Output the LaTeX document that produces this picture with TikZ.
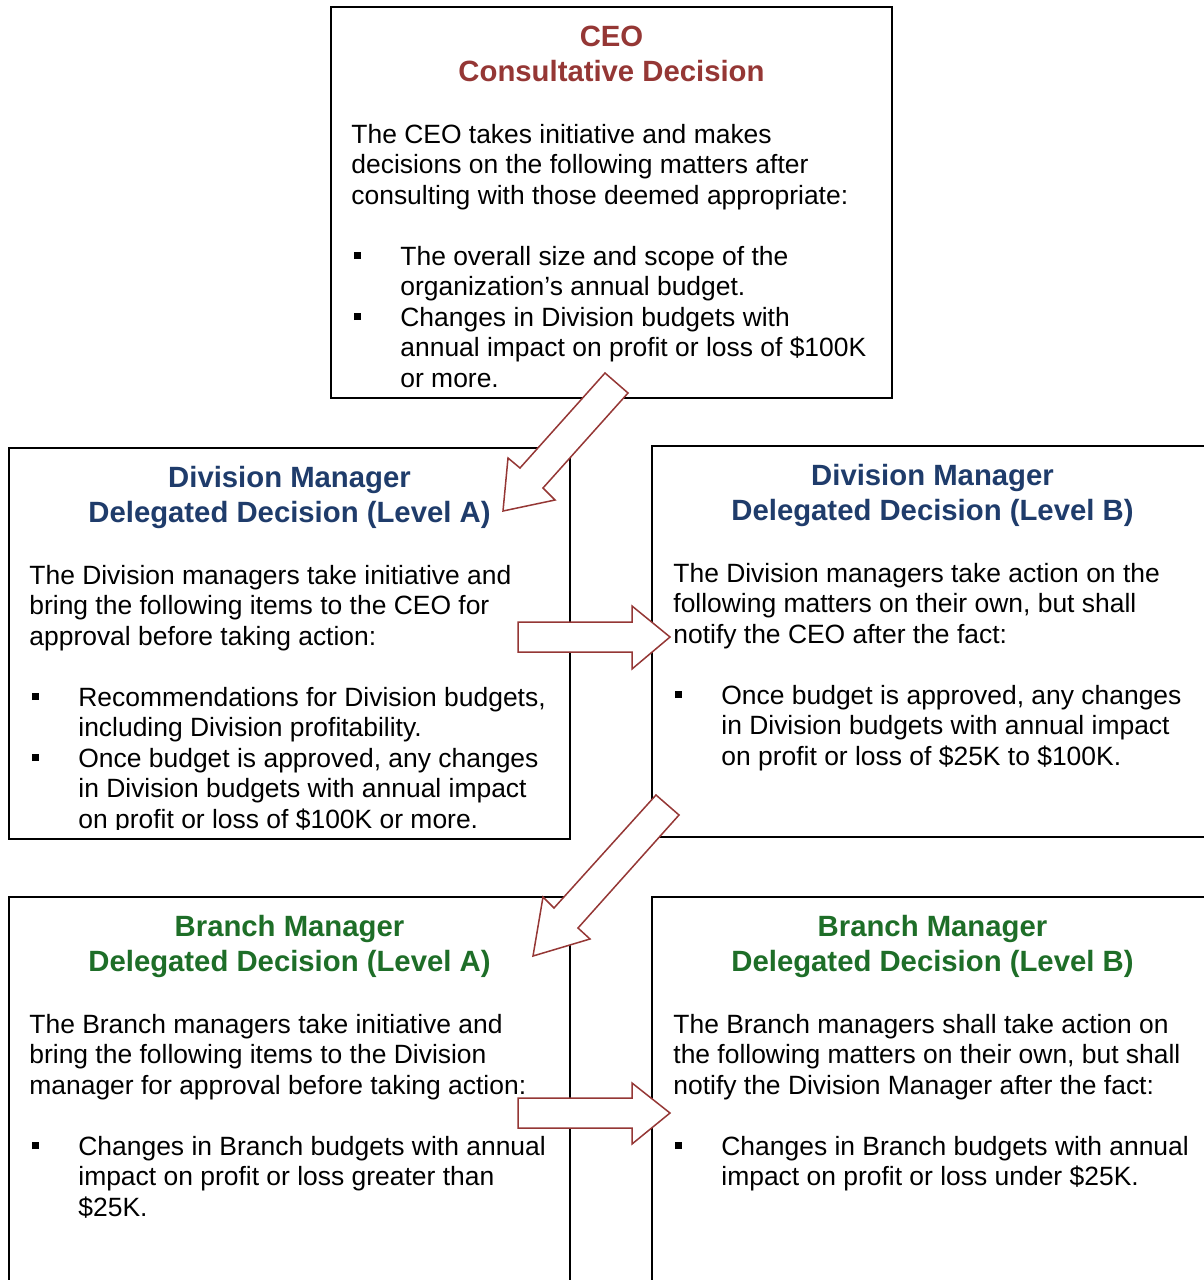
\documentclass[tikz,border=0pt]{standalone}
\usepackage{fontspec}
\setmainfont{Liberation Sans}
\definecolor{ceored}{HTML}{953735}
\definecolor{divblue}{HTML}{1F3C6B}
\definecolor{brgreen}{HTML}{1E6E28}
\definecolor{arrred}{HTML}{953735}
\tikzset{
  panel/.style={draw=black, line width=0.85pt, fill=none, inner sep=0pt, outer sep=0pt,
    minimum width=280.5pt, minimum height=195.5pt, anchor=north west},
  ttl/.style={anchor=base, inner sep=0pt, font=\fontsize{14.65}{17}\selectfont\bfseries},
  bdy/.style={anchor=base west, inner sep=0pt, font=\fontsize{13.22}{15}\selectfont},
  sq/.style={anchor=base west, inner sep=0pt, font=\fontsize{13.2}{15}\selectfont},
  blockarrow/.style={draw=arrred, fill=white, line width=0.75pt, line join=miter},
}
\newcommand\TL[5]{\node[ttl, text=#5] (#1) at (#2,#3) {#4};}
\newcommand\BL[4]{\node[bdy] (#1) at (#2,#3) {#4};}
\newcommand\SQ[3]{\node[sq] (#1) at (#2,#3-6) {\rule{3.5pt}{3.5pt}};}
\begin{document}
\begin{tikzpicture}[x=0.5pt, y=-0.5pt]
\clip (0,0) rectangle (1204,1280);
\fill[white] (0,0) rectangle (1204,1280);

% ---------------- boxes ----------------
\node[panel] (ceo) at (331,7) {};
\node[panel] (diva) at (9,448) {};
\node[panel] (divb) at (652,446) {};
\node[panel] (bra) at (9,897) {};
\node[panel] (brb) at (652,897) {};

% ---------------- CEO ----------------
\TL{ceo-t1}{611.5}{46}{CEO}{ceored}
\TL{ceo-t2}{611.5}{81}{Consultative Decision}{ceored}
\BL{ceo-l1}{351}{143}{The CEO takes initiative and makes}
\BL{ceo-l2}{351}{173.5}{decisions on the following matters after}
\BL{ceo-l3}{351}{204}{consulting with those deemed appropriate:}
\SQ{ceo-s1}{354}{265}
\BL{ceo-b1}{400}{265}{The overall size and scope of the}
\BL{ceo-b2}{400}{295.5}{organization’s annual budget.}
\SQ{ceo-s2}{354}{326}
\BL{ceo-b3}{400}{326}{Changes in Division budgets with}
\BL{ceo-b4}{400}{356.5}{annual impact on profit or loss of \$100K}
\BL{ceo-b5}{400}{387}{or more.}

% ---------------- Division A ----------------
\TL{diva-t1}{289.5}{487}{Division Manager}{divblue}
\TL{diva-t2}{289.5}{522}{Delegated Decision (Level A)}{divblue}
\BL{diva-l1}{29}{584}{The Division managers take initiative and}
\BL{diva-l2}{29}{614.5}{bring the following items to the CEO for}
\BL{diva-l3}{29}{645}{approval before taking action:}
\begin{scope}
\clip (9,448) rectangle (570,829);
\SQ{diva-s1}{32}{706}
\BL{diva-b1}{78}{706}{Recommendations for Division budgets,}
\BL{diva-b2}{78}{736.5}{including Division profitability.}
\SQ{diva-s2}{32}{767}
\BL{diva-b3}{78}{767}{Once budget is approved, any changes}
\BL{diva-b4}{78}{797.5}{in Division budgets with annual impact}
\BL{diva-b5}{78}{828}{on profit or loss of \$100K or more.}
\end{scope}

% ---------------- Division B ----------------
\TL{divb-t1}{932.5}{485}{Division Manager}{divblue}
\TL{divb-t2}{932.5}{520}{Delegated Decision (Level B)}{divblue}
\BL{divb-l1}{673}{582}{The Division managers take action on the}
\BL{divb-l2}{673}{612.5}{following matters on their own, but shall}
\BL{divb-l3}{673}{643}{notify the CEO after the fact:}
\SQ{divb-s1}{675}{704}
\BL{divb-b1}{721}{704}{Once budget is approved, any changes}
\BL{divb-b2}{721}{734.5}{in Division budgets with annual impact}
\BL{divb-b3}{721}{765}{on profit or loss of \$25K to \$100K.}

% ---------------- Branch A ----------------
\TL{bra-t1}{289.5}{936}{Branch Manager}{brgreen}
\TL{bra-t2}{289.5}{971}{Delegated Decision (Level A)}{brgreen}
\BL{bra-l1}{29}{1033}{The Branch managers take initiative and}
\BL{bra-l2}{29}{1063.5}{bring the following items to the Division}
\BL{bra-l3}{29}{1094}{manager for approval before taking action:}
\SQ{bra-s1}{32}{1155}
\BL{bra-b1}{78}{1155}{Changes in Branch budgets with annual}
\BL{bra-b2}{78}{1185.5}{impact on profit or loss greater than}
\BL{bra-b3}{78}{1216}{\$25K.}

% ---------------- Branch B ----------------
\TL{brb-t1}{932.5}{936}{Branch Manager}{brgreen}
\TL{brb-t2}{932.5}{971}{Delegated Decision (Level B)}{brgreen}
\BL{brb-l1}{673}{1033}{The Branch managers shall take action on}
\BL{brb-l2}{673}{1063.5}{the following matters on their own, but shall}
\BL{brb-l3}{673}{1094}{notify the Division Manager after the fact:}
\SQ{brb-s1}{675}{1155}
\BL{brb-b1}{721}{1155}{Changes in Branch budgets with annual}
\BL{brb-b2}{721}{1185.5}{impact on profit or loss under \$25K.}

% ---------------- block arrows ----------------
\draw[blockarrow] (605,373) -- (628,393) -- (543,488) -- (555,500) -- (503,511)
  -- (508,458) -- (520,468) -- cycle;
\draw[blockarrow] (518,622) -- (632,622) -- (632,606) -- (670,637) -- (632,669)
  -- (632,652) -- (518,652) -- cycle;
\draw[blockarrow] (656,795) -- (679,815) -- (578,928) -- (590,939) -- (533,956)
  -- (543,897) -- (554,908) -- cycle;
\draw[blockarrow] (518,1098) -- (632,1098) -- (632,1083) -- (670,1113) -- (632,1144)
  -- (632,1128) -- (518,1128) -- cycle;
\end{tikzpicture}
\end{document}
